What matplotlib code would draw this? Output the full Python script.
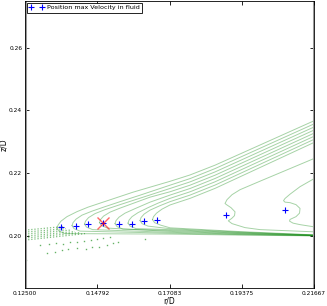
import matplotlib
matplotlib.use("Agg")
import matplotlib.pyplot as plt

# ---------------------------------------------------------
# 1. Data (r/D, z/D)
# ---------------------------------------------------------

# position of the max velocity per profile
r_max = [0.13642, 0.14118, 0.14508, 0.14984, 0.15482, 0.15885, 0.16284, 0.16678, 0.18866, 0.20757]
z_max = [0.20284, 0.20306, 0.20360, 0.20411, 0.20360, 0.20370, 0.20456, 0.20488, 0.20647, 0.20806]
red_idx = 3

# upper arms of the nested contours (nose -> right wall)
upper_r = [
    [0.13515, 0.13547, 0.13642, 0.13832, 0.14149, 0.14498, 0.14879, 0.15355, 0.15926, 0.16465, 0.17099, 0.17734, 0.18527, 0.21667],
    [0.13991, 0.14023, 0.14118, 0.14308, 0.14625, 0.15038, 0.15513, 0.16148, 0.17099, 0.17734, 0.18527, 0.21667],
    [0.14387, 0.14419, 0.14514, 0.14720, 0.15038, 0.15513, 0.16148, 0.17099, 0.17734, 0.18527, 0.21667],
    [0.14863, 0.14895, 0.14990, 0.15196, 0.15513, 0.15989, 0.16465, 0.17099, 0.17734, 0.18527, 0.21667],
    [0.15355, 0.15386, 0.15482, 0.15672, 0.15989, 0.16465, 0.17099, 0.17734, 0.18527, 0.21667],
    [0.15767, 0.15799, 0.15894, 0.16084, 0.16401, 0.16719, 0.17099, 0.17734, 0.18527, 0.21667],
    [0.16148, 0.16179, 0.16275, 0.16465, 0.16782, 0.17099, 0.17734, 0.18527, 0.21667],
    [0.16544, 0.16576, 0.16671, 0.16845, 0.17099, 0.17734, 0.18527, 0.21667],
]
upper_z = [
    [0.20243, 0.20338, 0.20466, 0.20609, 0.20768, 0.20911, 0.21039, 0.21198, 0.21389, 0.21548, 0.21735, 0.21938, 0.22250, 0.23665],
    [0.20323, 0.20418, 0.20529, 0.20657, 0.20784, 0.20927, 0.21086, 0.21293, 0.21612, 0.21822, 0.22141, 0.23566],
    [0.20370, 0.20466, 0.20577, 0.20705, 0.20832, 0.20991, 0.21198, 0.21507, 0.21717, 0.22035, 0.23467],
    [0.20418, 0.20514, 0.20625, 0.20752, 0.20880, 0.21055, 0.21230, 0.21402, 0.21612, 0.21930, 0.23369],
    [0.20386, 0.20482, 0.20593, 0.20720, 0.20864, 0.21071, 0.21296, 0.21506, 0.21825, 0.23270],
    [0.20402, 0.20498, 0.20609, 0.20736, 0.20895, 0.21039, 0.21191, 0.21401, 0.21720, 0.23171],
    [0.20482, 0.20577, 0.20689, 0.20816, 0.20959, 0.21086, 0.21296, 0.21615, 0.23073],
    [0.20514, 0.20609, 0.20720, 0.20848, 0.20981, 0.21191, 0.21510, 0.22974],
]

# lower arms (nose -> right wall, all squeezed near z/D = 0.2)
lower_r = [
    [0.13515, 0.13578, 0.13769, 0.17099, 0.19320, 0.21667],
    [0.13991, 0.14054, 0.14245, 0.17099, 0.19320, 0.21667],
    [0.14387, 0.14451, 0.14641, 0.17099, 0.19320, 0.21667],
    [0.14863, 0.14927, 0.15117, 0.17099, 0.19320, 0.21667],
    [0.15355, 0.15418, 0.15609, 0.17099, 0.19320, 0.21667],
    [0.15767, 0.15831, 0.16021, 0.17099, 0.19320, 0.21667],
    [0.16148, 0.16211, 0.16401, 0.17099, 0.19320, 0.21667],
    [0.16544, 0.16608, 0.16798, 0.17099, 0.19320, 0.21667],
]
lower_z = [
    [0.20243, 0.20147, 0.20068, 0.20052, 0.20020, 0.19995],
    [0.20323, 0.20227, 0.20147, 0.20081, 0.20036, 0.20000],
    [0.20370, 0.20275, 0.20195, 0.20109, 0.20052, 0.20004],
    [0.20418, 0.20323, 0.20243, 0.20138, 0.20068, 0.20009],
    [0.20386, 0.20291, 0.20211, 0.20167, 0.20084, 0.20014],
    [0.20402, 0.20307, 0.20227, 0.20195, 0.20100, 0.20019],
    [0.20482, 0.20386, 0.20307, 0.20224, 0.20116, 0.20023],
    [0.20514, 0.20418, 0.20339, 0.20253, 0.20132, 0.20028],
]

# the two outer contours with the small bump
bump_r = [
    [0.21667, 0.19954, 0.19320, 0.19066, 0.18907, 0.18844, 0.18891, 0.19034, 0.19161,
     0.19145, 0.19056, 0.18948, 0.19066, 0.19478, 0.19954, 0.21667],
    [0.21667, 0.21223, 0.20906, 0.20747, 0.20699, 0.20747, 0.20906, 0.21096, 0.21223,
     0.21207, 0.21096, 0.20906, 0.20890, 0.21001, 0.21223, 0.21667],
]
bump_z = [
    [0.22462, 0.21739, 0.21468, 0.21309, 0.21150, 0.21029, 0.20991, 0.20895, 0.20762,
     0.20641, 0.20552, 0.20475, 0.20386, 0.20259, 0.20195, 0.20125],
    [0.21819, 0.21564, 0.21325, 0.21188, 0.21118, 0.21071, 0.21055, 0.20991, 0.20870,
     0.20720, 0.20609, 0.20520, 0.20466, 0.20402, 0.20354, 0.20284],
]

# dotted fan near the inner wall
fan_r0 = [0.125, 0.125, 0.125, 0.125, 0.125, 0.125]
fan_z0 = [0.20179, 0.20116, 0.20052, 0.19988, 0.19925, 0.19861]
fan_r1 = [0.13705, 0.13800, 0.13927, 0.14086, 0.14245, 0.14403]
fan_z1 = [0.20291, 0.20227, 0.20179, 0.20132, 0.20100, 0.20068]

# scattered contour fragments below the jet
dots_r = [0.12976, 0.13261, 0.13483, 0.13705, 0.13927, 0.14149, 0.14371, 0.14594, 0.14784,
          0.14974, 0.15196, 0.15450, 0.16306,
          0.13198, 0.13452, 0.13674, 0.13864, 0.14149, 0.14435, 0.14625, 0.14847, 0.15101,
          0.15291, 0.12516]
dots_z = [0.19702, 0.19734, 0.19765, 0.19750, 0.19797, 0.19797, 0.19829, 0.19861, 0.19908,
          0.19924, 0.19956, 0.19797, 0.19893,
          0.19447, 0.19479, 0.19543, 0.19574, 0.19606, 0.19590, 0.19638, 0.19654, 0.19702,
          0.19765, 0.19224]

x_ticks = [0.125, 0.1479167, 0.1708333, 0.19375, 0.2166667]
x_labels = ["0.12500", "0.14792", "0.17083", "0.19375", "0.21667"]
y_ticks = [0.20, 0.22, 0.24, 0.26]
y_labels = ["0.20", "0.22", "0.24", "0.26"]

# ---------------------------------------------------------
# 2. Plot
# ---------------------------------------------------------

fig = plt.figure(figsize=(3.27, 3.06), dpi=100)
ax = fig.add_axes([0.0765, 0.0588, 0.8838, 0.9395])

for r, z in zip(upper_r, upper_z):
    ax.plot(r, z, color="g", alpha=0.35, lw=0.7)
for r, z in zip(lower_r, lower_z):
    ax.plot(r, z, color="g", alpha=0.35, lw=0.7)
for r, z in zip(bump_r, bump_z):
    ax.plot(r, z, color="g", alpha=0.35, lw=0.7)
for i in range(len(fan_r0)):
    ax.plot([fan_r0[i], fan_r1[i]], [fan_z0[i], fan_z1[i]], color="g", alpha=0.5,
            lw=0.9, linestyle=(0, (1, 1.5)))
ax.plot(dots_r, dots_z, linestyle="none", marker="s", ms=1.0, mew=0, color="g", alpha=0.6)

# walls
ax.axvline(0.125, color="0.6", lw=2.2)
ax.axvline(0.2166667, color="0.6", lw=2.2)

ax.plot(r_max, z_max, linestyle="none", marker="+", ms=5, mew=0.8, color="b",
        label="Position max Velocity in fluid")
ax.plot(r_max[red_idx], z_max[red_idx], marker="x", ms=9, mew=1.0, color="red", alpha=0.6)

ax.set_xlim(0.125, 0.2166667)
ax.set_ylim(0.1833333, 0.275)
ax.set_xticks(x_ticks)
ax.set_xticklabels(x_labels)
ax.set_yticks(y_ticks)
ax.set_yticklabels(y_labels)
ax.tick_params(direction="in", length=3, width=0.6, labelsize=4.2, pad=2,
               top=True, right=True)
for s in ax.spines.values():
    s.set_linewidth(0.6)

ax.set_xlabel("r/D", fontsize=5.5, labelpad=0.5)
ax.set_ylabel("z/D", fontsize=5.5, labelpad=1)

leg = ax.legend(loc="upper left", fontsize=4.6, numpoints=2, borderaxespad=0.35,
                borderpad=0.35, handlelength=2.2, handletextpad=0.5,
                fancybox=False, framealpha=1)
leg.get_frame().set_edgecolor("black")
leg.get_frame().set_linewidth(0.6)

fig.savefig("out.png", dpi=100)
